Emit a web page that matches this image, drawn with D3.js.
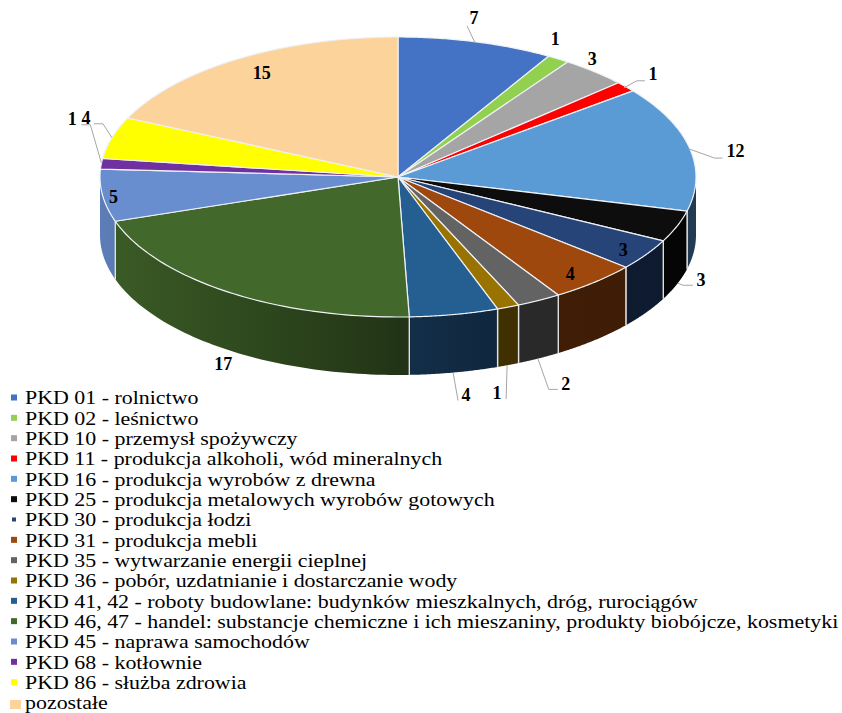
<!DOCTYPE html>
<html><head><meta charset="utf-8">
<script src="https://d3js.org/d3.v7.min.js"></script>
<style>html,body{margin:0;background:#fff}svg{display:block}text{font-family:"Liberation Serif",serif}</style>
</head><body><div id="c"></div>
<script>
const categories=["PKD 01 - rolnictwo","PKD 02 - leśnictwo","PKD 10 - przemysł spożywczy","PKD 11 - produkcja alkoholi, wód mineralnych","PKD 16 - produkcja wyrobów z drewna","PKD 25 - produkcja metalowych wyrobów gotowych","PKD 30 - produkcja łodzi","PKD 31 - produkcja mebli","PKD 35 - wytwarzanie energii cieplnej","PKD 36 - pobór, uzdatnianie i dostarczanie wody","PKD 41, 42 - roboty budowlane: budynków mieszkalnych, dróg, rurociągów","PKD 46, 47 - handel: substancje chemiczne i ich mieszaniny, produkty biobójcze, kosmetyki","PKD 45 - naprawa samochodów","PKD 68 - kotłownie","PKD 86 - służba zdrowia","pozostałe"];
const values=[7,1,3,1,12,3,3,4,2,1,4,17,5,1,4,15];
const colors=["#4472C4","#92D050","#A5A5A5","#FF0000","#5B9BD5","#0D0D0D","#264478","#9E480E","#636363","#997300","#255E91","#43682B","#698ED0","#7030A0","#FFFF00","#FBD39B"];
const W=842,H=713,cx=398,cy=177,rx=298,ry=140,depth=58;
const svg=d3.select("#c").append("svg").attr("width",W).attr("height",H);
const defs=svg.append("defs");
const arcs=d3.pie().sort(null).value(d=>d)(values);
const P=(a,y0=0)=>[cx+rx*Math.sin(a),cy-ry*Math.cos(a)+y0];
const shade=d3.scaleLinear().domain([100,250,400,500,696]).range([.88,.7,.5,.42,.38]);
const HP=Math.PI/2,TP=3*Math.PI/2;
const rimPath=(a0,a1,y0)=>d3.range(0,61).map(i=>P(a0+(a1-a0)*i/60,y0));
colors.forEach((c,i)=>{
  const g=defs.append("linearGradient").attr("id","s"+i).attr("gradientUnits","userSpaceOnUse").attr("x1",100).attr("x2",696).attr("y1",0).attr("y2",0);
  shade.domain().forEach(x=>{
    const k=shade(x),o=d3.rgb(c);
    g.append("stop").attr("offset",(x-100)/596).attr("stop-color",d3.rgb(o.r*k,o.g*k,o.b*k));
  });
});
const line=d3.line();
const sides=svg.append("g");
arcs.forEach(d=>{
  const a0=Math.max(d.startAngle,HP),a1=Math.min(d.endAngle,TP);
  if(a1<=a0)return;
  const pts=rimPath(a0,a1,0).concat(rimPath(a1,a0,depth));
  sides.append("path").attr("d",line(pts)+"Z").attr("fill",`url(#s${d.index})`);
  [a0,a1].forEach(a=>{ if(a===HP||a===TP)return;
    sides.append("line").attr("x1",P(a)[0]).attr("y1",P(a)[1]).attr("x2",P(a)[0]).attr("y2",P(a)[1]+depth).attr("stroke","#e4e4e4").attr("stroke-width",1.3);
  });
});
const tops=svg.append("g");
arcs.forEach(d=>{
  const pts=[[cx,cy]].concat(rimPath(d.startAngle,d.endAngle,0));
  tops.append("path").attr("d",line(pts)+"Z").attr("fill",colors[d.index]).attr("stroke","#eef1f6").attr("stroke-width",1.2).attr("stroke-linejoin","round");
});
// label offsets from the rim point at each slice's mid angle
const placement=[
 {dx:-2,dy:-24,lead:[[-1,1],[-9,-16]]},
 {dx:-3,dy:-20},
 {dx:-2,dy:-13},
 {dx:27,dy:-13,lead:[[-2,1],[11,-6],[19,-6]]},
 {dx:46,dy:3,lead:[[0,1],[25,10],[33,10]]},
 {dx:24,dy:53,lead:[[1,57],[6,59],[16,59]]},
 {dx:-23,dy:-5},
 {dx:-24,dy:-9},
 {dx:27,dy:83,lead:[[-1,58],[10,89],[19,89]]},
 {dx:-11,dy:86,lead:[[-1,58],[-2,92]]},
 {dx:12,dy:80,lead:[[-1,58],[4,86]]},
 {dx:-5,dy:72},
 {dx:11,dy:1},
 {dx:-29,dy:-45,lead:[[0,-1],[-11,-39],[-20,-39]]},
 {dx:-26,dy:-20,lead:[[0,0],[-9,-14],[-18,-14]]},
 {dx:24,dy:14}
];
const leads=svg.append("g").attr("fill","none").attr("stroke","#a6a6a6").attr("stroke-width",1);
const lab=svg.append("g");
arcs.forEach(d=>{
  const i=d.index,p=placement[i],b=P((d.startAngle+d.endAngle)/2);
  if(p.lead)leads.append("path").attr("d",line(p.lead.map(o=>[b[0]+o[0],b[1]+o[1]])));
  lab.append("text").attr("x",b[0]+p.dx).attr("y",b[1]+p.dy).attr("dy","0.35em").attr("text-anchor","middle").attr("font-size",18).attr("font-weight","bold").attr("fill","#000").text(values[i]);
});
// legend
const rowY=d3.scalePoint().domain(d3.range(categories.length)).range([397.5,702.5]);
const leg=svg.append("g");
categories.forEach((c,i)=>{
  const y=rowY(i),last=i===15,s=i===6?4:6;
  leg.append("rect").attr("x",last?10:14-s/2).attr("y",last?700:y-s/2).attr("width",last?11:s).attr("height",last?9:s).attr("fill",colors[i]);
  leg.append("text").attr("transform",`translate(25,${y}) scale(1.124,1)`).attr("dy","0.35em").attr("font-size",19.5).attr("fill","#000").text(c);
});
</script></body></html>
